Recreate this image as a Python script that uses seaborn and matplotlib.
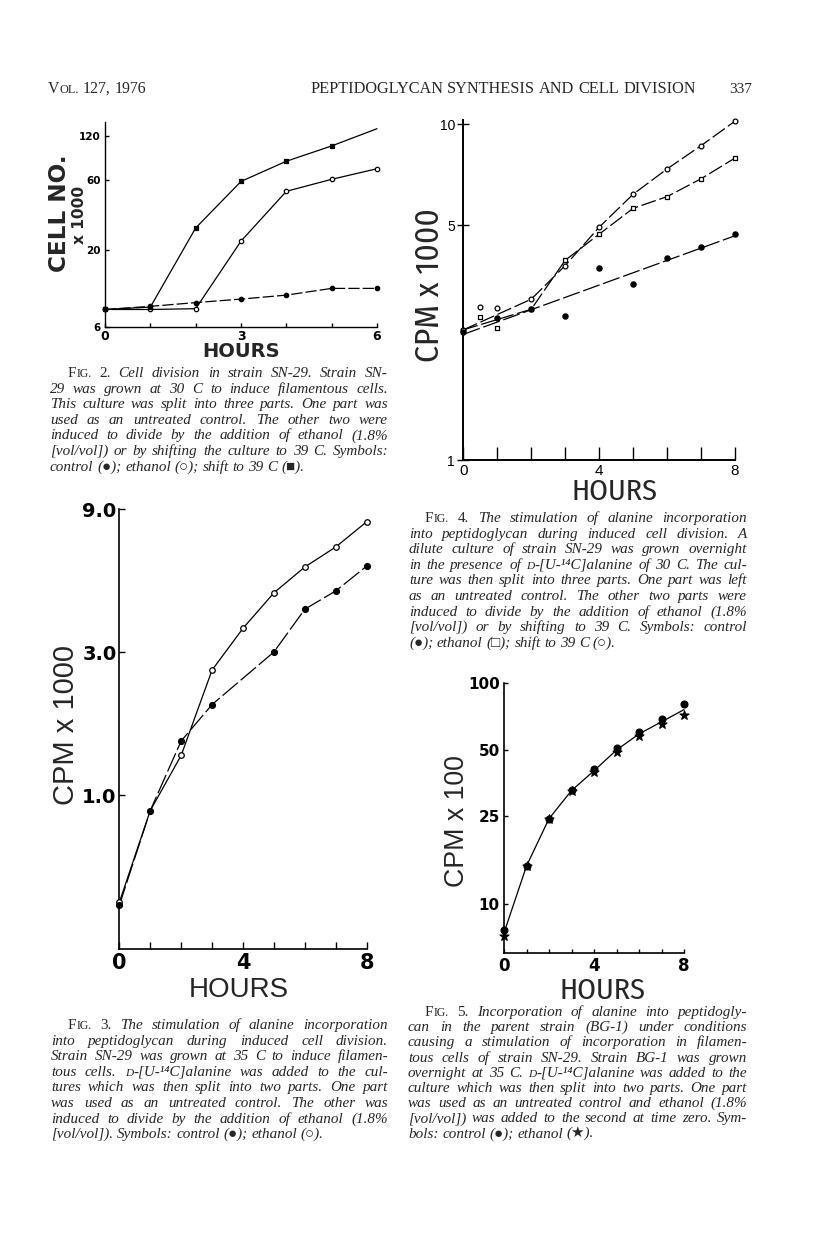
import numpy as np
import pandas as pd
import matplotlib
matplotlib.use("Agg")
import matplotlib.pyplot as plt
import seaborn as sns

# ---- data ----
# Fig. 2  cell number x 1000
f2_hours = [0, 1, 2, 3, 4, 5, 6]
f2_control = [7.9, 8.3, 8.8, 9.3, 9.9, 11.0, 11.0]
f2_ethanol = [7.9, 7.9, 8.0, 23.1, 50.5, 61, 72]
f2_shift = [7.9, 8.2, 28.4, 59, 81, 103, 135]

# Fig. 4  cpm x 1000
f4_hours = [0, 0.5, 1, 2, 3, 4, 5, 6, 7, 8]
f4_shift = [2.44, 2.86, 2.83, 3.01, 3.79, 4.93, 6.18, 7.35, 8.62, 10.2]
f4_ethanol = [2.44, 2.66, 2.47, 2.81, 3.93, 4.70, 5.61, 6.08, 6.87, 7.92]
f4_ctrl_hours = [0, 1, 2, 3, 4, 5, 6, 7, 8]
f4_control = [2.41, 2.65, 2.81, 2.68, 3.72, 3.34, 3.99, 4.31, 4.72]

# Fig. 3  cpm x 1000
f3_ctrl_hours = [0, 1, 2, 3, 5, 6, 7, 8]
f3_control = [0.43, 0.89, 1.52, 2.01, 3.01, 4.18, 4.81, 5.82]
f3_eth_hours = [0, 1, 2, 3, 4, 5, 6, 7, 8]
f3_ethanol = [0.44, 0.89, 1.36, 2.62, 3.61, 4.74, 5.78, 6.74, 8.18]

# Fig. 5  cpm x 100
f5_hours = [0, 1, 2, 3, 4, 5, 6, 7, 8]
f5_control = [7.65, 14.9, 24.4, 32.9, 40.8, 50.8, 60.2, 68.7, 80.4]
f5_ethanol = [7.2, 14.9, 24.4, 32.5, 39.6, 49.0, 57.8, 65.2, 71.9]

cap2 = ["FIG. 2. Cell division in strain SN-29. Strain SN-",
        "29 was grown at 30 C to induce filamentous cells.",
        "This culture was split into three parts. One part was",
        "used as an untreated control. The other two were",
        "induced to divide by the addition of ethanol (1.8%",
        "[vol/vol]) or by shifting the culture to 39 C. Symbols:",
        "control (\u25cf); ethanol (\u25cb); shift to 39 C (\u25a0)."]
cap4 = ["FIG. 4. The stimulation of alanine incorporation",
        "into peptidoglycan during induced cell division. A",
        "dilute culture of strain SN-29 was grown overnight",
        "in the presence of D-[U-\u00b9\u2074C]alanine of 30 C. The cul-",
        "ture was then split into three parts. One part was left",
        "as an untreated control. The other two parts were",
        "induced to divide by the addition of ethanol (1.8%",
        "[vol/vol]) or by shifting to 39 C. Symbols: control",
        "(\u25cf); ethanol (\u25a1); shift to 39 C (\u25cb)."]
cap3 = ["FIG. 3. The stimulation of alanine incorporation",
        "into peptidoglycan during induced cell division.",
        "Strain SN-29 was grown at 35 C to induce filamen-",
        "tous cells. D-[U-\u00b9\u2074C]alanine was added to the cul-",
        "tures which was then split into two parts. One part",
        "was used as an untreated control. The other was",
        "induced to divide by the addition of ethanol (1.8%",
        "[vol/vol]). Symbols: control (\u25cf); ethanol (\u25cb)."]
cap5 = ["FIG. 5. Incorporation of alanine into peptidogly-",
        "can in the parent strain (BG-1) under conditions",
        "causing a stimulation of incorporation in filamen-",
        "tous cells of strain SN-29. Strain BG-1 was grown",
        "overnight at 35 C. D-[U-\u00b9\u2074C]alanine was added to the",
        "culture which was then split into two parts. One part",
        "was used as an untreated control and ethanol (1.8%",
        "[vol/vol]) was added to the second at time zero. Sym-",
        "bols: control (\u25cf); ethanol (\u2605)."]

W, H = 816, 1236
sns.set_style("ticks")
plt.rcParams["font.family"] = ["DejaVu Sans"]
plt.rcParams["axes.edgecolor"] = "black"
plt.rcParams["xtick.color"] = "black"
plt.rcParams["ytick.color"] = "black"

fig = plt.figure(figsize=(W / 100, H / 100), dpi=100)
fig.patch.set_facecolor("white")
renderer = fig.canvas.get_renderer()

SERIF = ["Liberation Serif", "DejaVu Serif", "DejaVu Sans"]
NARROW = ["Fira Sans Condensed", "DejaVu Sans"]
SANS = ["Liberation Sans", "DejaVu Sans"]
BOLD = ["DejaVu Sans"]


def fxy(x, y):
    return x / W, 1 - y / H


def fit_text(x, y, s, length, family, weight="normal", rotation=0):
    # place a label centred at (x, y) and size it to the length seen on the page
    t = fig.text(*fxy(x, y), s, fontsize=10, family=family, fontweight=weight,
                 rotation=rotation, ha="center", va="center")
    bb = t.get_window_extent(renderer)
    cur = bb.height if rotation else bb.width
    t.set_fontsize(10 * length / cur)
    return t


def make_ax(l, t, r, b, lw=1.0):
    ax = fig.add_axes([l / W, 1 - b / H, (r - l) / W, (b - t) / H])
    ax.set_facecolor("none")
    sns.despine(ax=ax)
    for sp in ("left", "bottom"):
        ax.spines[sp].set_linewidth(lw)
    return ax


def series(ax, hours, vals, marker, filled, s, ls="-", mark=None, line=None):
    df = pd.DataFrame({"hours": hours, "value": vals})
    if ls is not None:
        ld = df if line is None else df.iloc[line]
        sns.lineplot(data=ld, x="hours", y="value", ax=ax, color="black",
                     linewidth=0.9, linestyle=ls, estimator=None, sort=False,
                     clip_on=False)
    pts = df if mark is None else df.iloc[mark]
    sns.scatterplot(data=pts, x="hours", y="value", ax=ax, marker=marker, s=s,
                    facecolor="black" if filled else "white", edgecolor="black",
                    linewidth=0.9, zorder=4, clip_on=False)


def finish(ax, xmax, ylim, yt, ylab, xt_lab, yfont, xfont, xlen, ylen, ydir="in",
           ypad=3, xpad=3):
    ax.set(xlabel="", ylabel="")
    ax.set_yscale("log")
    ax.set_xlim(0, xmax)
    ax.set_ylim(*ylim)
    ax.set_yticks(yt, ylab, **yfont)
    ax.set_xticks(range(xmax + 1), xt_lab, **xfont)
    ax.minorticks_off()
    ax.tick_params(axis="x", direction="in", length=xlen, width=1.0, pad=xpad)
    ax.tick_params(axis="y", direction=ydir, length=ylen, width=1.0, pad=ypad)


# ---------------- Fig. 2 ----------------
ax2 = make_ax(105, 122, 377, 327)
series(ax2, f2_hours, f2_control, "o", True, 10, ls=(0, (9, 2.5)))
series(ax2, f2_hours, f2_ethanol, "o", False, 10, ls="-")
series(ax2, f2_hours, f2_shift, "s", True, 10, ls="-", mark=list(range(6)))
finish(ax2, 6, (6, 150), [6, 20, 60, 120], ["6", "20", "60", "120"],
       ["0", "", "", "3", "", "", "6"],
       dict(fontsize=7.5, fontweight="bold"), dict(fontsize=9, fontweight="bold"),
       3, 3, xpad=2)
fit_text(60, 213, "CELL NO.", 118, BOLD, "bold", 90)
fit_text(80, 215, "x 1000", 58, BOLD, "bold", 90)
fit_text(241, 352, "HOURS", 78, BOLD, "bold")

# ---------------- Fig. 4 ----------------
ax4 = make_ax(463.3, 119.7, 735, 460, lw=1.4)
keep = [0, 3, 4, 5, 6, 7, 8, 9]
series(ax4, f4_hours, f4_shift, "o", False, 12, ls=(0, (12, 3)), line=keep)
series(ax4, f4_hours, f4_ethanol, "s", False, 12, ls=(0, (12, 3)), line=keep)
coef = np.polyfit(f4_ctrl_hours, np.log10(f4_control), 1)
fit_h = np.array([f4_ctrl_hours[0], f4_ctrl_hours[-1]])
fit_df = pd.DataFrame({"hours": fit_h, "value": 10 ** np.polyval(coef, fit_h)})
sns.lineplot(data=fit_df, x="hours", y="value", ax=ax4, color="black",
             linewidth=0.9, linestyle=(0, (14, 3)), clip_on=False)
series(ax4, f4_ctrl_hours, f4_control, "o", True, 14, ls=None)
finish(ax4, 8, (1, 10.3), [1, 5, 10], ["1", "5", "10"],
       ["0", "", "", "", "4", "", "", "", "8"],
       dict(fontsize=10, family=SANS), dict(fontsize=11, family=SANS),
       9.5, 8, ydir="inout", ypad=2, xpad=3)
fit_text(429.5, 285, "CPM x 1000", 154, NARROW, "normal", 90)
fit_text(615, 492, "HOURS", 86, NARROW)

# ---------------- Fig. 3 ----------------
ax3 = make_ax(119.3, 509.3, 366.7, 949.3, lw=1.2)
series(ax3, f3_eth_hours, f3_ethanol, "o", False, 16, ls="-",
       mark=[0, 2, 3, 4, 5, 6, 7, 8])
series(ax3, f3_ctrl_hours, f3_control, "o", True, 18, ls=(0, (16, 3)))
finish(ax3, 8, (0.307, 9.0), [1, 3, 9], ["1.0", "3.0", "9.0"],
       ["0", "", "", "", "4", "", "", "", "8"],
       dict(fontsize=14, fontweight="bold"), dict(fontsize=15, fontweight="bold"),
       5, 4, ypad=2, xpad=3)
fit_text(65.5, 725, "CPM x 1000", 160, SANS, "normal", 90)
fit_text(239, 990, "HOURS", 100, SANS)

# ---------------- Fig. 5 ----------------
ax5 = make_ax(504, 683.3, 684, 953.3, lw=1.2)
mean5 = np.sqrt(np.array(f5_control) * np.array(f5_ethanol))
mdf = pd.DataFrame({"hours": f5_hours, "value": mean5})
sns.lineplot(data=mdf, x="hours", y="value", ax=ax5, color="black",
             linewidth=0.9, clip_on=False)
series(ax5, f5_hours, f5_control, "o", True, 24, ls=None)
series(ax5, f5_hours, f5_ethanol, "*", True, 45, ls=None)
finish(ax5, 8, (6, 100), [10, 25, 50, 100], ["10", "25", "50", "100"],
       ["0", "", "", "", "4", "", "", "", "8"],
       dict(fontsize=11, fontweight="bold"), dict(fontsize=12, fontweight="bold"),
       3, 3, ypad=3, xpad=3)
fit_text(602, 991, "HOURS", 86, NARROW)
fit_text(456.5, 821, "CPM x 100", 132, SANS, "normal", 90)


# ---------------- text blocks ----------------
def tokens(word, upright):
    st = "normal" if upright else "italic"
    if word in ("FIG.", "VOL."):
        return [(word[0], "normal", 1.0), (word[1:], "normal", 0.78)]
    if word.startswith("D-[U-"):
        return [("D", st, 0.75), (word[1:], st, 1.0)]
    return [(word, st, 1.0)]


def build(words, size, family, n_upright):
    items = []
    for i, w in enumerate(words):
        parts = []
        for s, st, k in tokens(w, i < n_upright):
            t = fig.text(0, 0, s, fontsize=size * k, style=st, family=family,
                         va="baseline")
            parts.append((t, t.get_window_extent(renderer).width))
        items.append(parts)
    return items


def word_widths(words, size, family, n_upright):
    items = build(words, size, family, n_upright)
    out = [sum(pw for _, pw in p) for p in items]
    for p in items:
        for t, _ in p:
            t.remove()
    return out


def place_line(words, x0, x1, base, size, justify, family, n_upright=0):
    items = build(words, size, family, n_upright)
    widths = [sum(pw for _, pw in p) for p in items]
    gap = size * 100 / 72 * 0.25
    if justify and len(items) > 1:
        gap = (x1 - x0 - sum(widths)) / (len(items) - 1)
    x = x0
    for p in items:
        for t, pw in p:
            t.set_position(fxy(x, base))
            x += pw
        x += gap


blocks = [(cap2, 50, 388, 68, 377, 15.6), (cap4, 409, 747, 425, 522, 15.6),
          (cap3, 51, 388, 68, 1029, 15.6), (cap5, 408, 747, 425, 1016, 15.2)]
base_size = 13.0
MIN_GAP = 0.22
line_scale = {}
for bi, (lines, x0, x1, ind, b0, dy) in enumerate(blocks):
    for j, ln in enumerate(lines):
        start = ind if j == 0 else x0
        ws = word_widths(ln.split(), base_size, SERIF, 2 if j == 0 else 0)
        need = sum(ws) + (len(ws) - 1) * base_size * 100 / 72 * MIN_GAP
        line_scale[(bi, j)] = (x1 - start) / need
full = [v for (bi, j), v in line_scale.items() if j < len(blocks[bi][0]) - 1]
cap_size = 0.92 * base_size * min(1.0, float(np.percentile(full, 20)))

for bi, (lines, x0, x1, ind, b0, dy) in enumerate(blocks):
    for j, ln in enumerate(lines):
        start = ind if j == 0 else x0
        k = min(1.0, line_scale[(bi, j)] * base_size / cap_size)
        place_line(ln.split(), start, x1, b0 + j * dy, cap_size * k,
                   j < len(lines) - 1, SERIF, n_upright=2 if j == 0 else 0)

# running head, sized to the widths on the page
head_vol = ["VOL.", "127,", "1976"]
head_title = "PEPTIDOGLYCAN SYNTHESIS AND CELL DIVISION".split()
for words, x0, x1 in ((head_vol, 48, 146), (head_title, 310, 695)):
    ws = word_widths(words, 10, SERIF, len(words))
    nat = sum(ws) + (len(ws) - 1) * 10 * 100 / 72 * 0.25
    place_line(words, x0, x1, 93, 10 * (x1 - x0) / nat, False, SERIF,
               n_upright=len(words))
place_line(["337"], 729, 758, 93, 11, False, SERIF, n_upright=1)

fig.savefig("out.png", dpi=100, facecolor="white")
